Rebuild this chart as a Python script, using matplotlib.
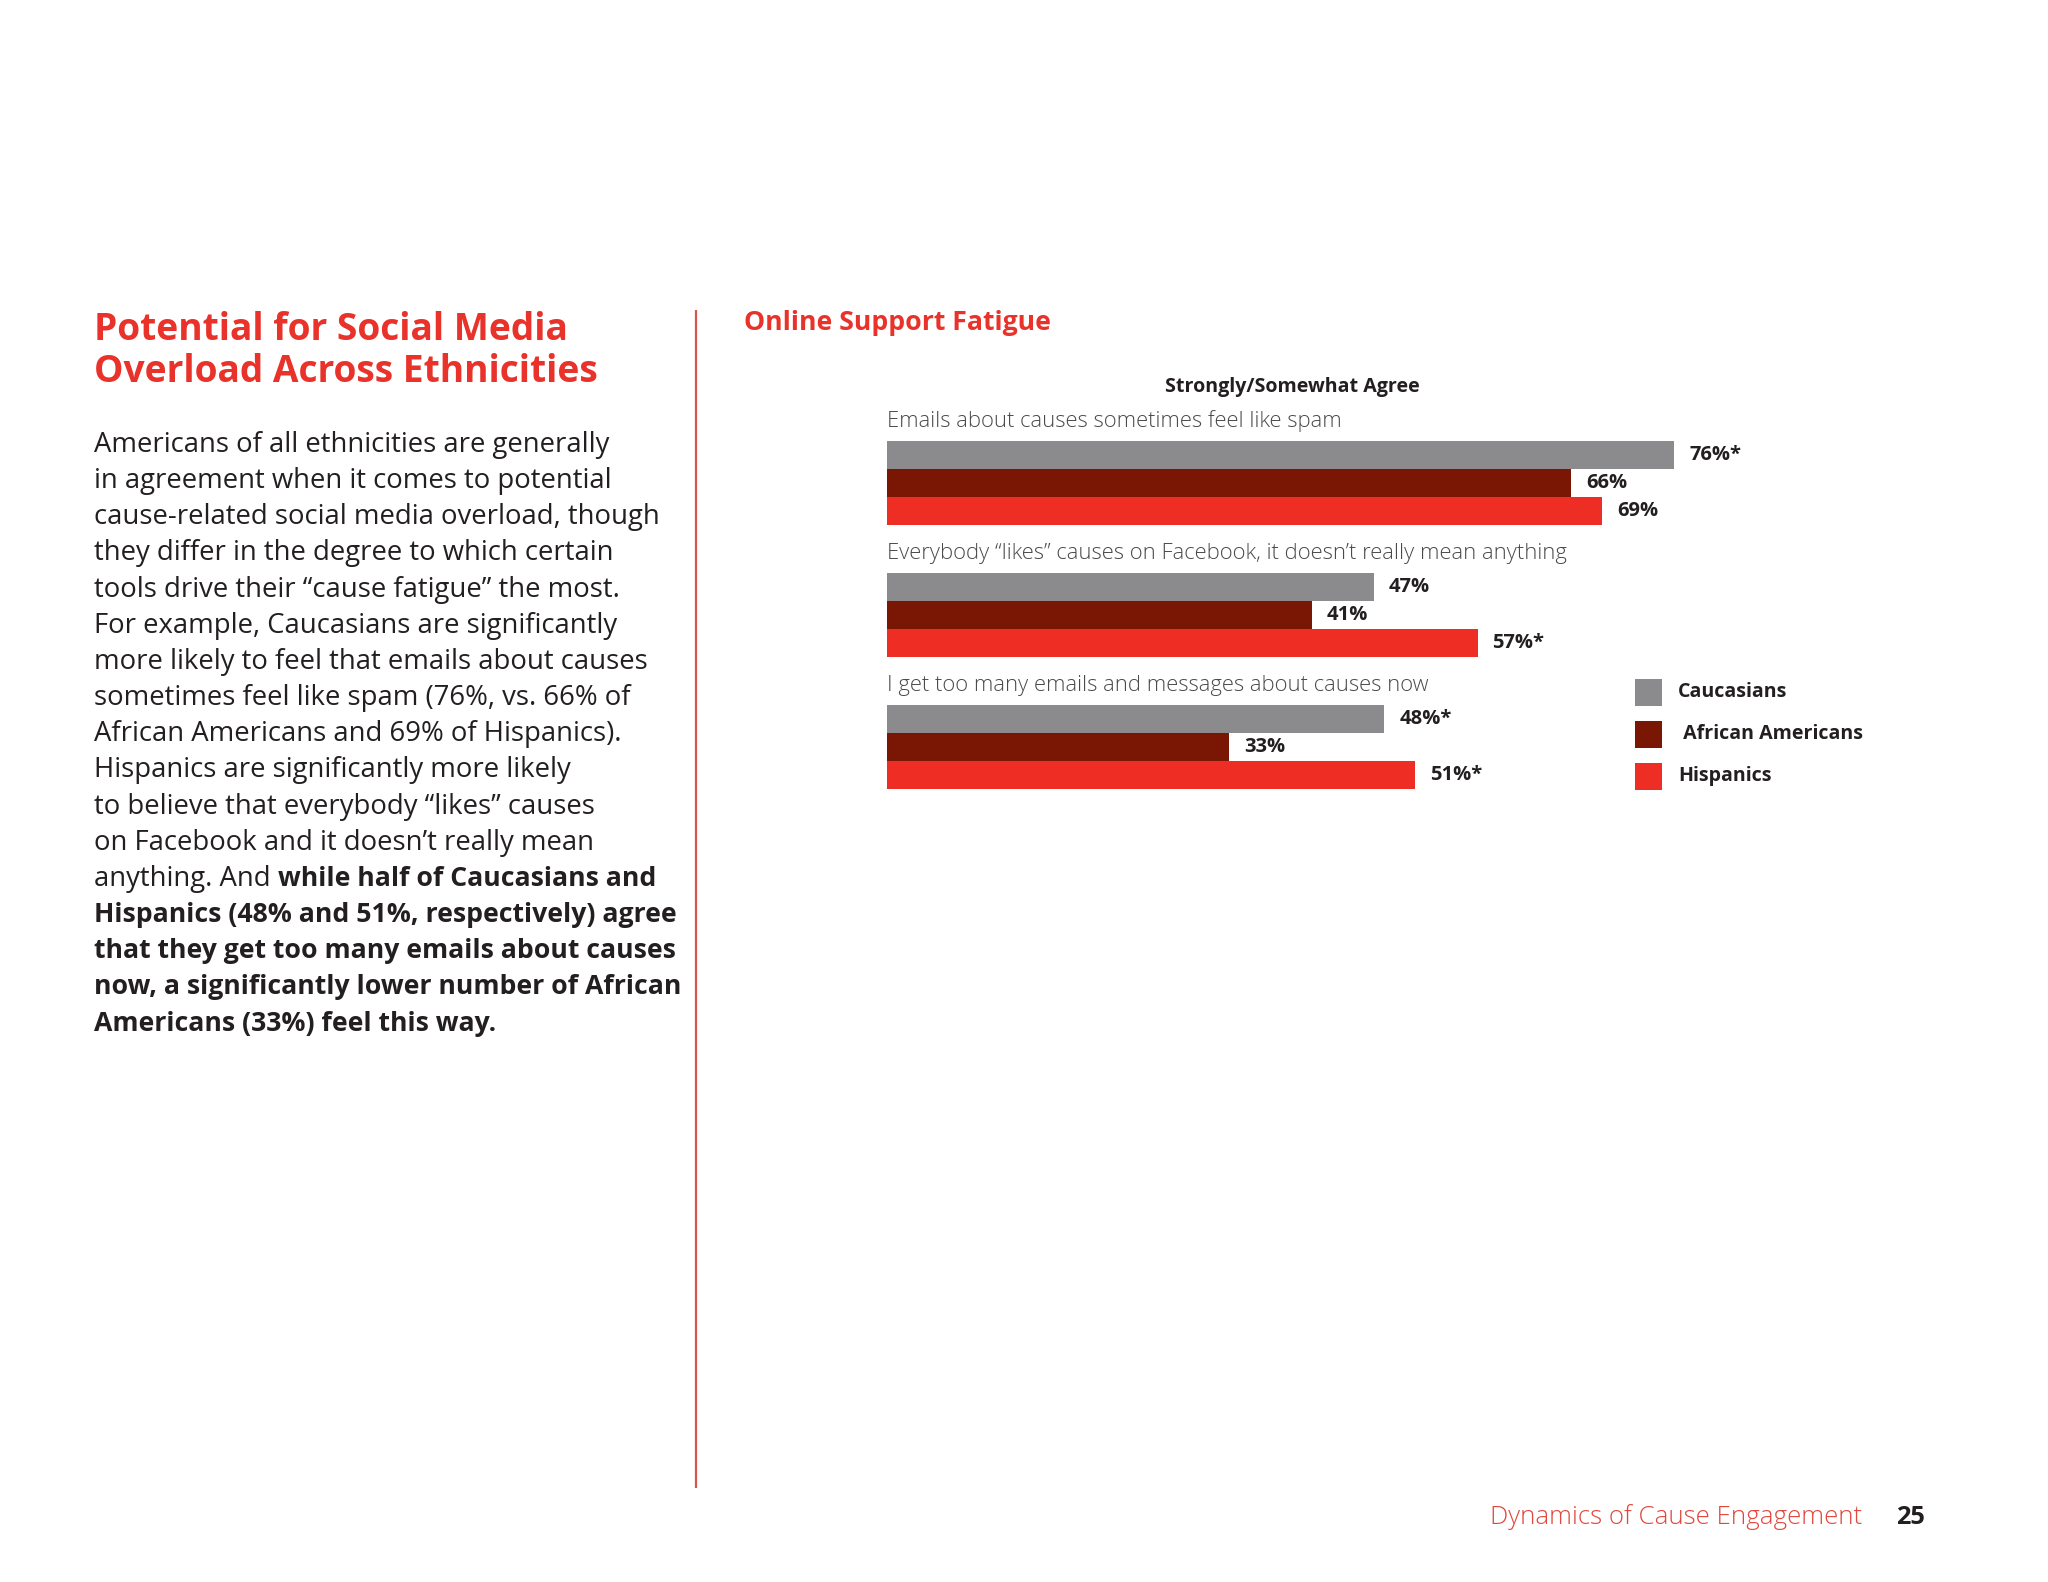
import matplotlib
matplotlib.use("Agg")
import matplotlib.pyplot as plt
from matplotlib.font_manager import FontProperties
from matplotlib.patches import Rectangle

# ---------------- data ----------------
statements = [
    "Emails about causes sometimes feel like spam",
    "Everybody \u201clikes\u201d causes on Facebook, it doesn\u2019t really mean anything",
    "I get too many emails and messages about causes now",
]
series_names = ["Caucasians", " African Americans", "Hispanics"]
caucasians = [76, 47, 48]
african_americans = [66, 41, 33]
hispanics = [69, 57, 51]
sig_caucasians = [True, False, True]
sig_african_americans = [False, False, False]
sig_hispanics = [False, True, True]

page_title = ["Potential for Social Media", "Overload Across Ethnicities"]
chart_title = "Online Support Fatigue"
chart_subtitle = "Strongly/Somewhat Agree"
body_lines = [
    ("Americans of all ethnicities are generally", ""),
    ("in agreement when it comes to potential", ""),
    ("cause-related social media overload, though", ""),
    ("they differ in the degree to which certain", ""),
    ("tools drive their \u201ccause fatigue\u201d the most.", ""),
    ("For example, Caucasians are significantly", ""),
    ("more likely to feel that emails about causes", ""),
    ("sometimes feel like spam (76%, vs. 66% of", ""),
    ("African Americans and 69% of Hispanics).", ""),
    ("Hispanics are significantly more likely", ""),
    ("to believe that everybody \u201clikes\u201d causes", ""),
    ("on Facebook and it doesn\u2019t really mean", ""),
    ("anything. And ", "while half of Caucasians and"),
    ("", "Hispanics (48% and 51%, respectively) agree"),
    ("", "that they get too many emails about causes"),
    ("", "now, a significantly lower number of African"),
    ("", "Americans (33%) feel this way."),
]
footer_text = "Dynamics of Cause Engagement"
page_number = "25"

# ---------------- style ----------------
FONT = "Open Sans"
RED = "#e8322a"
DARK = "#231f20"
GREY_TXT = "#4a4a4a"
colors = ["#8b8a8c", "#7a1604", "#ee2e24"]

W, H = 2048, 1582
fig = plt.figure(figsize=(W / 100, H / 100), dpi=100, facecolor="white")
renderer = fig.canvas.get_renderer()


def text_w(s, size, weight="normal"):
    fp = FontProperties(family=FONT, weight=weight, size=size)
    return renderer.get_text_width_height_descent(s, fp, ismath=False)[0]


def fit(sample, target, weight="normal"):
    return 20 * target / text_w(sample, 20, weight)


# background axes in pixel coordinates for page text
bg = fig.add_axes([0, 0, 1, 1])
bg.set_xlim(0, W)
bg.set_ylim(H, 0)
bg.axis("off")

# page title
fs_title = fit(page_title[1], 505, "bold")
for i, line in enumerate(page_title):
    bg.text(94, 340 + 41.5 * i, line, fontsize=fs_title, fontweight="bold",
            color=RED, family=FONT, va="baseline", ha="left")

# body text
fs_body = fit("cause-related social media overload, though", 565)
fs_bold = fit("Hispanics (48% and 51%, respectively) agree", 581, "bold")
space_w = text_w("a a", fs_body) - text_w("aa", fs_body)
for i, (reg, bold) in enumerate(body_lines):
    y = 452 + 36.16 * i
    x = 94
    if reg:
        bg.text(x, y, reg, fontsize=fs_body, color=DARK, family=FONT,
                va="baseline", ha="left")
        stripped = reg.rstrip(" ")
        x += text_w(stripped, fs_body) + space_w * (len(reg) - len(stripped))
    if bold:
        bg.text(x, y, bold, fontsize=fs_bold, fontweight="bold", color=DARK,
                family=FONT, va="baseline", ha="left")

# divider line
bg.plot([696, 696], [310, 1488], color="#d9564f", lw=1.6, solid_capstyle="butt")

# chart title and subtitle
fs_ct = fit(chart_title, 306, "bold")
bg.text(744, 330, chart_title, fontsize=fs_ct, fontweight="bold", color=RED,
        family=FONT, va="baseline", ha="left")
fs_sub = fit(chart_subtitle, 255, "bold")
bg.text(1292, 392, chart_subtitle, fontsize=fs_sub, fontweight="bold",
        color=DARK, family=FONT, va="baseline", ha="center")

# footer
fs_foot = fit(footer_text, 372, "light")
bg.text(1862, 1524, footer_text, fontsize=fs_foot, fontweight="light",
        color="#e2473d", family=FONT, va="baseline", ha="right")
fs_num = fit(page_number, 29, "bold")
bg.text(1896, 1524, page_number, fontsize=fs_num, fontweight="bold",
        color=DARK, family=FONT, va="baseline", ha="left")

# ---------------- bar chart ----------------
AX_TOP, AX_BOT, AX_L, AX_R = 430, 800, 887, 1923
BAR_PX = 28.0
ax = fig.add_axes([AX_L / W, 1 - AX_BOT / H, (AX_R - AX_L) / W, (AX_BOT - AX_TOP) / H])
ax.set_xlim(0, 100)
ax.set_ylim((AX_BOT - AX_TOP) / BAR_PX, 0)
ax.axis("off")

group_offset = (441 - AX_TOP) / BAR_PX
group_step = 4.72
series_vals = [caucasians, african_americans, hispanics]
series_sig = [sig_caucasians, sig_african_americans, sig_hispanics]

fs_cat = fit(statements[1], 680, "light")
fs_val = fit("76%*", 52, "bold")
for g, stmt in enumerate(statements):
    top = group_offset + g * group_step
    ax.text(0, top - 0.5, stmt, fontsize=fs_cat, fontweight="light",
            color=GREY_TXT, family=FONT, va="baseline", ha="left")
    for s, (vals, sigs) in enumerate(zip(series_vals, series_sig)):
        yc = top + s + 0.5
        ax.barh(yc, vals[g], height=1.0, color=colors[s], edgecolor="none")
        label = f"{vals[g]}%" + ("*" if sigs[g] else "")
        ax.text(vals[g] + 1.45, yc, label, fontsize=fs_val, fontweight="bold",
                color=DARK, family=FONT, va="center", ha="left")

# legend
fs_leg = fit("African Americans", 180, "bold")
for i, (name, col) in enumerate(zip(series_names, colors)):
    yc = 692 + 42 * i
    bg.add_patch(Rectangle((1635, yc - 13.5), 27, 27, color=col, lw=0))
    bg.text(1678, yc, name, fontsize=fs_leg, fontweight="bold", color=DARK,
            family=FONT, va="center", ha="left")

fig.savefig("out.png", dpi=100, facecolor="white")
